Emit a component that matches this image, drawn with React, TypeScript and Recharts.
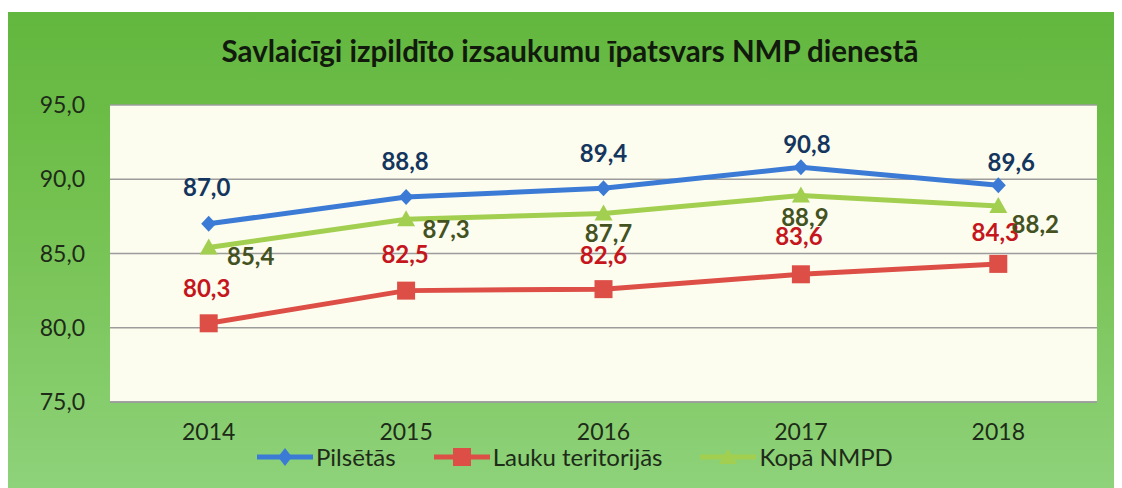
import React from 'react';
import { LineChart, Line, XAxis, YAxis, CartesianGrid, LabelList, Legend } from 'recharts';

const years = ['2014', '2015', '2016', '2017', '2018'];
const pilsetas = [87.0, 88.8, 89.4, 90.8, 89.6];
const lauku = [80.3, 82.5, 82.6, 83.6, 84.3];
const kopa = [85.4, 87.3, 87.7, 88.9, 88.2];
const yTicks = [75, 80, 85, 90, 95];

const seriesNames = { p: 'Pilsētās', l: 'Lauku teritorijās', k: 'Kopā NMPD' };
const title = 'Savlaicīgi izpildīto izsaukumu īpatsvars NMP dienestā';

const data = years.map((y, i) => ({ year: y, p: pilsetas[i], l: lauku[i], k: kopa[i] }));

// label offsets (style): [dx, dy] relative to marker
const offP = [[-2, -37], [-1, -37], [0, -36], [6, -24], [13, -24]];
const offL = [[-2, -36], [-1, -37], [0, -35], [-2, -39], [-3, -32]];
const offK = [[42, 8], [40, 9], [5, 19], [4, 21], [37, 18]];

const BLUE = '#3B7BD6';
const RED = '#DC4E46';
const GREEN = '#A2CF4F';
const FONT = 'Lato, "Noto Sans", sans-serif';

const fmt = (v: number) => v.toFixed(1).replace('.', ',');

const Diamond = (props: any) => {
  const { cx, cy } = props;
  if (cx == null || cy == null) return null;
  return <path d={`M${cx},${cy - 8} L${cx + 7.5},${cy} L${cx},${cy + 8} L${cx - 7.5},${cy} Z`} fill={BLUE} />;
};
const Square = (props: any) => {
  const { cx, cy } = props;
  if (cx == null || cy == null) return null;
  return <rect x={cx - 9} y={cy - 9} width={18} height={18} fill={RED} />;
};
const Triangle = (props: any) => {
  const { cx, cy } = props;
  if (cx == null || cy == null) return null;
  return <path d={`M${cx},${cy - 9} L${cx + 9},${cy + 7} L${cx - 9},${cy + 7} Z`} fill={GREEN} />;
};

const makeLabel = (offs: number[][], color: string) => (props: any) => {
  const { x, y, value, index } = props;
  const o = offs[index] || [0, 0];
  return (
    <text
      x={x + o[0]}
      y={y + o[1]}
      textAnchor="middle"
      dominantBaseline="central"
      fill={color}
      fontFamily={FONT}
      fontWeight={700}
      fontSize={24}
    >
      {fmt(value)}
    </text>
  );
};

const LegendIcon = ({ kind }: { kind: string }) => {
  const color = kind === 'p' ? BLUE : kind === 'l' ? RED : GREEN;
  return (
    <svg width={56} height={22} style={{ display: 'block' }}>
      <line x1={0} y1={11} x2={56} y2={11} stroke={color} strokeWidth={5} />
      {kind === 'p' && <path d="M28,2 L35,11 L28,20 L21,11 Z" fill={color} />}
      {kind === 'l' && <rect x={19} y={2} width={18} height={18} fill={color} />}
      {kind === 'k' && <path d="M28,3 L37,18 L19,18 Z" fill={color} />}
    </svg>
  );
};

const CustomLegend = () => (
  <div style={{ display: 'flex', alignItems: 'center', fontFamily: FONT, fontSize: 24, color: '#1d2b18', whiteSpace: 'nowrap' }}>
    {(['p', 'l', 'k'] as const).map((k, i) => (
      <div key={k} style={{ display: 'flex', alignItems: 'center', marginLeft: i === 0 ? 0 : 38 }}>
        <LegendIcon kind={k} />
        <span style={{ marginLeft: 3 }}>{seriesNames[k]}</span>
      </div>
    ))}
  </div>
);

export default function App() {
  return (
    <div
      style={{
        position: 'relative',
        marginTop: 4,
        width: 1114,
        height: 476,
        background: 'linear-gradient(180deg, #62B73E 0%, #76C252 45%, #8ED27A 100%)',
        overflow: 'hidden',
      }}
    >
      <div
        style={{
          position: 'absolute',
          left: 0,
          top: 24,
          width: 1124,
          textAlign: 'center',
          fontFamily: FONT,
          fontWeight: 700,
          fontSize: 29.5,
          lineHeight: 1,
          color: '#121a0e',
          whiteSpace: 'nowrap',
        }}
      >
        {title}
      </div>
      <LineChart width={1114} height={476} data={data} margin={{ top: 93, right: 25, bottom: 46, left: 0 }}>
        <CartesianGrid vertical={false} stroke="#9C9C9C" strokeWidth={1.5} fill="#FDFDEF" />
        <XAxis
          dataKey="year"
          height={40}
          padding={{ left: 98.7, right: 98.7 }}
          tickLine={false}
          tickSize={0}
          tickMargin={22}
          axisLine={{ stroke: '#9C9C9C', strokeWidth: 1.5 }}
          tick={{ fill: '#1d2b18', fontSize: 23, fontFamily: FONT }}
        />
        <YAxis
          width={102}
          domain={[75, 95]}
          ticks={yTicks}
          tickFormatter={fmt}
          axisLine={false}
          tickLine={false}
          tickSize={0}
          tickMargin={25}
          tick={{ fill: '#1d2b18', fontSize: 23, fontFamily: FONT }}
        />
        <Legend
          verticalAlign="middle"
          layout="horizontal"
          content={<CustomLegend />}
          wrapperStyle={{ position: 'absolute', top: 430, left: 249, width: 'auto' }}
        />
        <Line dataKey="p" name={seriesNames.p} stroke={BLUE} strokeWidth={5} dot={<Diamond />} activeDot={false} isAnimationActive={false}>
          <LabelList dataKey="p" content={makeLabel(offP, '#14365E')} />
        </Line>
        <Line dataKey="l" name={seriesNames.l} stroke={RED} strokeWidth={5} dot={<Square />} activeDot={false} isAnimationActive={false}>
          <LabelList dataKey="l" content={makeLabel(offL, '#C4161C')} />
        </Line>
        <Line dataKey="k" name={seriesNames.k} stroke={GREEN} strokeWidth={5} dot={<Triangle />} activeDot={false} isAnimationActive={false}>
          <LabelList dataKey="k" content={makeLabel(offK, '#43521F')} />
        </Line>
      </LineChart>
    </div>
  );
}
